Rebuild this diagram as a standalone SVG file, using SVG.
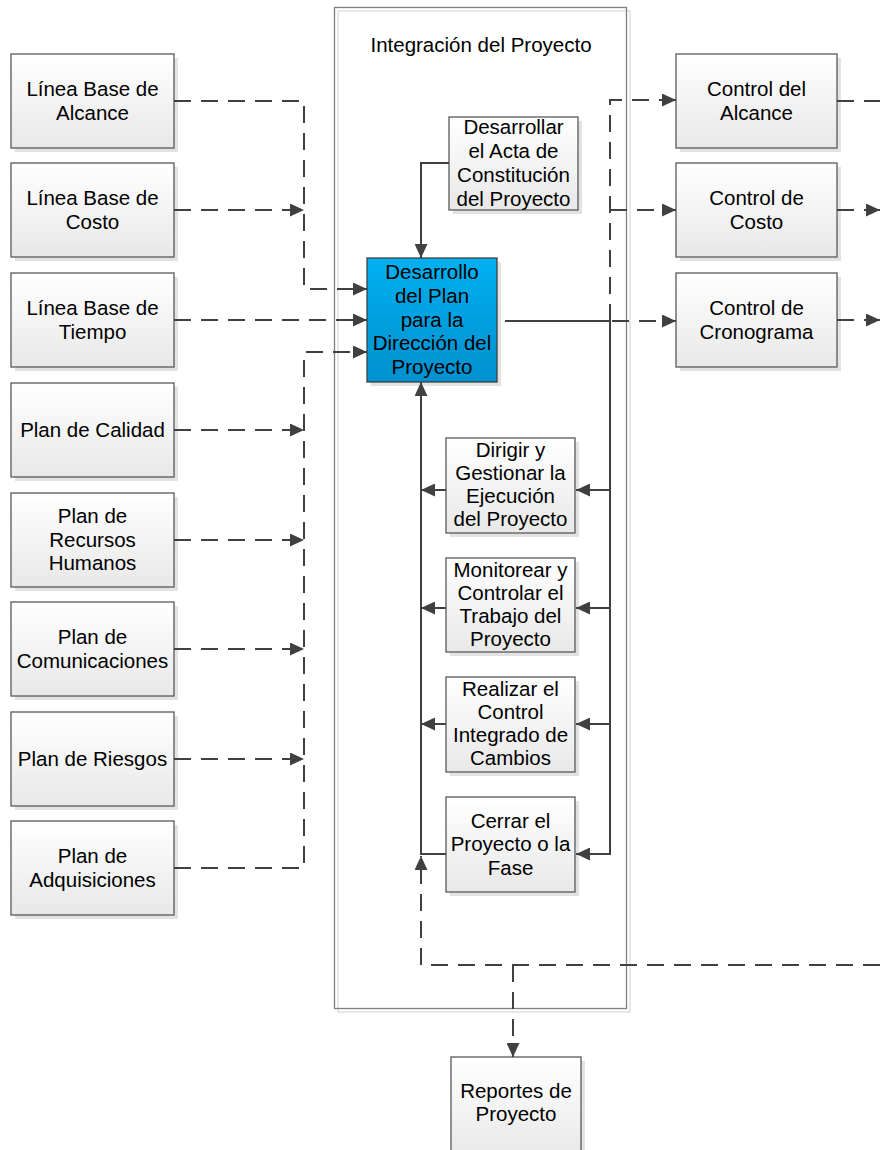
<svg xmlns="http://www.w3.org/2000/svg" width="880" height="1150" viewBox="0 0 880 1150">
<style>
.box{fill:url(#gGray);stroke:#595959;stroke-width:1.3}
.blue{fill:url(#gBlue);stroke:#404040;stroke-width:1.3}
.sh{fill:#d6d6d6;opacity:0.7}
.t{font-family:"Liberation Sans",Arial,sans-serif;font-size:20.5px;fill:#000;text-anchor:middle}
.c{fill:none;stroke:#404040;stroke-width:2}
.d{stroke-dasharray:17,10}
</style>
<defs>
<linearGradient id="gGray" x1="0" y1="0" x2="0" y2="1">
<stop offset="0" stop-color="#ffffff"/>
<stop offset="1" stop-color="#e8e8e8"/>
</linearGradient>
<linearGradient id="gBlue" x1="0" y1="0" x2="0" y2="1">
<stop offset="0" stop-color="#00b0f0"/>
<stop offset="1" stop-color="#0090cf"/>
</linearGradient>
<marker id="arr" viewBox="0 0 14 13" refX="14" refY="6.5" markerWidth="14" markerHeight="13" markerUnits="userSpaceOnUse" orient="auto">
<path d="M0,0 L14,6.5 L0,13 z" fill="#404040"/>
</marker>
</defs>
<rect width="880" height="1150" fill="#ffffff"/>

<g id="container">
<rect x="338" y="11" width="292" height="1001" fill="none" stroke="#dadada" stroke-width="1.3"/>
<rect x="334.5" y="7.5" width="292" height="1001" fill="none" stroke="#7f7f7f" stroke-width="1.3"/>
<text class="t" x="481" y="52">Integración del Proyecto</text>
</g>

<g id="n-alcance"><rect class="sh" x="15" y="58" width="163" height="94"/><rect class="box" x="11" y="54" width="163" height="94"/><text class="t" x="92.5" y="96">Línea Base de</text><text class="t" x="92.5" y="119.5">Alcance</text></g>
<g id="n-costo"><rect class="sh" x="15" y="167" width="163" height="94"/><rect class="box" x="11" y="163" width="163" height="94"/><text class="t" x="92.5" y="205">Línea Base de</text><text class="t" x="92.5" y="228.5">Costo</text></g>
<g id="n-tiempo"><rect class="sh" x="15" y="277" width="163" height="94"/><rect class="box" x="11" y="273" width="163" height="94"/><text class="t" x="92.5" y="315">Línea Base de</text><text class="t" x="92.5" y="338.5">Tiempo</text></g>
<g id="n-calidad"><rect class="sh" x="15" y="387" width="163" height="94"/><rect class="box" x="11" y="383" width="163" height="94"/><text class="t" x="92.5" y="437">Plan de Calidad</text></g>
<g id="n-rrhh"><rect class="sh" x="15" y="497" width="163" height="94"/><rect class="box" x="11" y="493" width="163" height="94"/><text class="t" x="92.5" y="523">Plan de</text><text class="t" x="92.5" y="546.5">Recursos</text><text class="t" x="92.5" y="570">Humanos</text></g>
<g id="n-comunicaciones"><rect class="sh" x="15" y="606" width="163" height="94"/><rect class="box" x="11" y="602" width="163" height="94"/><text class="t" x="92.5" y="644">Plan de</text><text class="t" x="92.5" y="667.5">Comunicaciones</text></g>
<g id="n-riesgos"><rect class="sh" x="15" y="716" width="163" height="94"/><rect class="box" x="11" y="712" width="163" height="94"/><text class="t" x="92.5" y="766">Plan de Riesgos</text></g>
<g id="n-adquisiciones"><rect class="sh" x="15" y="825" width="163" height="94"/><rect class="box" x="11" y="821" width="163" height="94"/><text class="t" x="92.5" y="863">Plan de</text><text class="t" x="92.5" y="886.5">Adquisiciones</text></g>

<g id="n-acta"><rect class="sh" x="453" y="121" width="129" height="93"/><rect class="box" x="449" y="117" width="129" height="93"/><text class="t" x="513.5" y="134">Desarrollar</text><text class="t" x="513.5" y="158">el Acta de</text><text class="t" x="513.5" y="182">Constitución</text><text class="t" x="513.5" y="206">del Proyecto</text></g>

<g id="n-plan"><rect class="sh" x="371" y="262" width="130" height="124"/><rect class="blue" x="367" y="258" width="130" height="124"/><text class="t" x="432" y="279">Desarrollo</text><text class="t" x="432" y="303">del Plan</text><text class="t" x="432" y="326.5">para la</text><text class="t" x="432" y="350">Dirección del</text><text class="t" x="432" y="374">Proyecto</text></g>

<g id="n-dirigir"><rect class="sh" x="450" y="442" width="129" height="95"/><rect class="box" x="446" y="438" width="129" height="95"/><text class="t" x="510.5" y="457">Dirigir y</text><text class="t" x="510.5" y="480">Gestionar la</text><text class="t" x="510.5" y="503">Ejecución</text><text class="t" x="510.5" y="526">del Proyecto</text></g>
<g id="n-monitorear"><rect class="sh" x="450" y="562" width="129" height="94"/><rect class="box" x="446" y="558" width="129" height="94"/><text class="t" x="510.5" y="576.5">Monitorear y</text><text class="t" x="510.5" y="599.5">Controlar el</text><text class="t" x="510.5" y="622.5">Trabajo del</text><text class="t" x="510.5" y="645.5">Proyecto</text></g>
<g id="n-realizar"><rect class="sh" x="450" y="681" width="129" height="95"/><rect class="box" x="446" y="677" width="129" height="95"/><text class="t" x="510.5" y="696">Realizar el</text><text class="t" x="510.5" y="719">Control</text><text class="t" x="510.5" y="742">Integrado de</text><text class="t" x="510.5" y="765">Cambios</text></g>
<g id="n-cerrar"><rect class="sh" x="450" y="801" width="129" height="95"/><rect class="box" x="446" y="797" width="129" height="95"/><text class="t" x="510.5" y="827.5">Cerrar el</text><text class="t" x="510.5" y="851">Proyecto o la</text><text class="t" x="510.5" y="874.5">Fase</text></g>

<g id="n-ctrl-alcance"><rect class="sh" x="680" y="58" width="161" height="94"/><rect class="box" x="676" y="54" width="161" height="94"/><text class="t" x="756.5" y="96">Control del</text><text class="t" x="756.5" y="119.5">Alcance</text></g>
<g id="n-ctrl-costo"><rect class="sh" x="680" y="167" width="161" height="94"/><rect class="box" x="676" y="163" width="161" height="94"/><text class="t" x="756.5" y="205">Control de</text><text class="t" x="756.5" y="228.5">Costo</text></g>
<g id="n-ctrl-crono"><rect class="sh" x="680" y="277" width="161" height="94"/><rect class="box" x="676" y="273" width="161" height="94"/><text class="t" x="756.5" y="315">Control de</text><text class="t" x="756.5" y="338.5">Cronograma</text></g>

<g id="n-reportes"><rect class="sh" x="455" y="1061" width="130" height="100"/><rect class="box" x="451" y="1057" width="130" height="100"/><text class="t" x="516" y="1097.5">Reportes de</text><text class="t" x="516" y="1121">Proyecto</text></g>

<g id="connectors">
<path class="c d" d="M174,101 H304 V289 H367" marker-end="url(#arr)"/>
<path class="c d" d="M174,210 H304" marker-end="url(#arr)"/>
<path class="c d" d="M174,320 H367" marker-end="url(#arr)"/>
<path class="c d" d="M174,430 H304" marker-end="url(#arr)"/>
<path class="c d" d="M174,540 H304" marker-end="url(#arr)"/>
<path class="c d" d="M174,649 H304" marker-end="url(#arr)"/>
<path class="c d" d="M174,759 H304" marker-end="url(#arr)"/>
<path class="c d" d="M174,868 H304 V352 H367" marker-end="url(#arr)"/>
<path class="c" d="M449,163 H421 V258" marker-end="url(#arr)"/>
<path class="c" d="M446,854 H421 V382" marker-end="url(#arr)"/>
<path class="c" d="M446,490 H421" marker-end="url(#arr)"/>
<path class="c" d="M446,608 H421" marker-end="url(#arr)"/>
<path class="c" d="M446,724 H421" marker-end="url(#arr)"/>
<path class="c" d="M505,321 H610 V854 H576" marker-end="url(#arr)"/>
<path class="c" d="M610,490 H576" marker-end="url(#arr)"/>
<path class="c" d="M610,608 H576" marker-end="url(#arr)"/>
<path class="c" d="M610,724 H576" marker-end="url(#arr)"/>
<path class="c d" d="M610,321 V100 H676" marker-end="url(#arr)"/>
<path class="c d" d="M610,210 H676" marker-end="url(#arr)"/>
<path class="c d" d="M612,321 H676" marker-end="url(#arr)"/>
<path class="c d" d="M837,101 H880"/>
<path class="c d" d="M837,210 H880" marker-end="url(#arr)"/>
<path class="c d" d="M837,320 H880" marker-end="url(#arr)"/>
<path class="c d" d="M880,965 H421 V856" marker-end="url(#arr)"/>
<path class="c d" d="M513,965 V1057" marker-end="url(#arr)"/>
</g>
</svg>
